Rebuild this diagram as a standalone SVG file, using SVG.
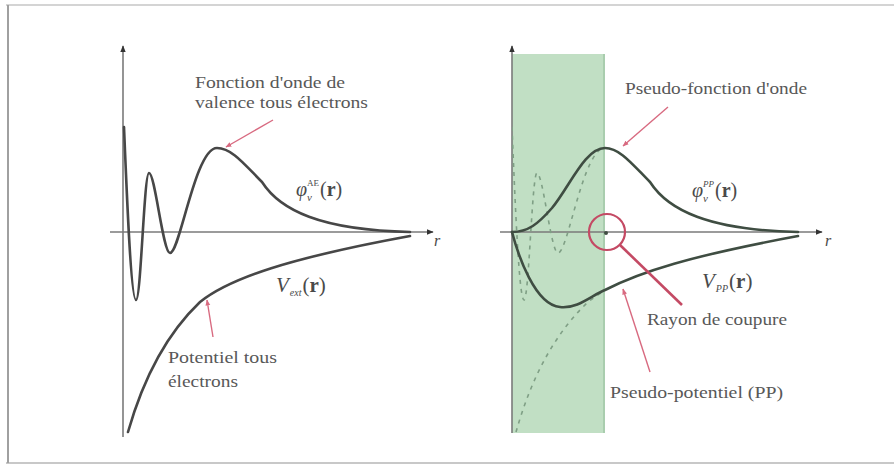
<svg xmlns="http://www.w3.org/2000/svg" xmlns:xlink="http://www.w3.org/1999/xlink" width="894" height="467" viewBox="0 0 894 467">
<style>
.ax{stroke:#7a7a7a;stroke-width:1.6;fill:none}
.cv{stroke:#474747;stroke-width:2.6;fill:none;stroke-linecap:round}
.cvg{stroke:#3f4d42;stroke-width:2.6;fill:none;stroke-linecap:round}
.dash{stroke:#7f9f85;stroke-width:1.6;fill:none;stroke-dasharray:4 5}
.lead{stroke:#d86a80;stroke-width:1.4;fill:none}
.t{font-family:"Liberation Serif",serif;font-size:17px;fill:#585858}
.m{font-family:"Liberation Serif",serif;fill:#4a4a4a}
</style>
<defs>
<marker id="ah" viewBox="0 0 10 10" refX="9" refY="5" markerWidth="7" markerHeight="7" orient="auto" markerUnits="userSpaceOnUse">
<path d="M0,1 L10,5 L0,9 Z" fill="#333"/>
</marker>
<marker id="ra" viewBox="0 0 10 10" refX="9" refY="5" markerWidth="6" markerHeight="6" orient="auto" markerUnits="userSpaceOnUse">
<path d="M0,1 L10,5 L0,9 Z" fill="#d86a80"/>
</marker>
<clipPath id="core"><rect x="512" y="54" width="93" height="379"/></clipPath>
<path id="aewf" d="M124,127 C127,200 131,300 136,300 C141,300 144,173 149,173 C155,173 163,253 170,253 C180,253 195,148 217,148 C232,148 245,165 262,182 C280,210 320,230 410,232"/>
<path id="aepot" d="M128,432 C140,390 160,340 200,302 C230,278 290,258 410,236"/>
</defs>
<rect width="894" height="467" fill="#fff"/>
<g id="frame">
<line x1="6" y1="5" x2="894" y2="5" stroke="#d4d4d4" stroke-width="2"/>
<line x1="6" y1="463" x2="894" y2="463" stroke="#c8c8c8" stroke-width="2"/>
<line x1="8" y1="5" x2="8" y2="463" stroke="#a0a0a0" stroke-width="2"/>
</g>
<g id="core-region">
<rect x="512" y="54" width="93" height="379" fill="#c1dfc4"/>
<line x1="604" y1="54" x2="604" y2="433" stroke="#a9cdae" stroke-width="2"/>
</g>
<g id="axes">
<line class="ax" x1="123" y1="437" x2="123" y2="46" marker-end="url(#ah)"/>
<line class="ax" x1="110" y1="232" x2="433" y2="232" marker-end="url(#ah)"/>
<line class="ax" x1="512" y1="433" x2="512" y2="46" marker-end="url(#ah)"/>
<line class="ax" x1="500" y1="232" x2="822" y2="232" marker-end="url(#ah)"/>
<text class="m" x="434" y="246" font-size="16" font-style="italic">r</text>
<text class="m" x="825" y="246" font-size="16" font-style="italic">r</text>
</g>
<g id="all-electron">
<use xlink:href="#aewf" class="cv"/>
<use xlink:href="#aepot" class="cv"/>
</g>
<g id="pseudo">
<g clip-path="url(#core)">
<use xlink:href="#aewf" class="dash" transform="translate(388,0)"/>
<use xlink:href="#aepot" class="dash" transform="translate(388,0)"/>
</g>
<path class="cvg" d="M512,232 C528,232 538,224 552,208 C570,186 585,148 605,148 C620,148 633,165 650,182 C668,210 708,230 798,232"/>
<path class="cvg" d="M512,232 C518,255 535,305 560,307 C578,309 592,295 605,290 C640,272 690,256 798,236"/>
<circle cx="606" cy="233" r="2" fill="#3f4d42"/>
</g>
<g id="connectors">
<line class="lead" x1="273" y1="120" x2="226" y2="147" marker-end="url(#ra)"/>
<line class="lead" x1="668" y1="107" x2="623" y2="146" marker-end="url(#ra)"/>
<line class="lead" x1="213" y1="337" x2="207" y2="300" marker-end="url(#ra)"/>
<line class="lead" x1="650" y1="372" x2="623" y2="289" marker-end="url(#ra)"/>
<circle cx="607" cy="232" r="18" fill="none" stroke="#c44a64" stroke-width="2.2"/>
<line x1="620" y1="245" x2="682" y2="305" stroke="#c44a64" stroke-width="2.6"/>
</g>
<g id="labels">
<text class="t" x="195" y="88" textLength="150" lengthAdjust="spacingAndGlyphs">Fonction d'onde de</text>
<text class="t" x="195" y="108" textLength="173" lengthAdjust="spacingAndGlyphs">valence tous électrons</text>
<text class="t" x="168" y="363" textLength="109" lengthAdjust="spacingAndGlyphs">Potentiel tous</text>
<text class="t" x="168" y="387" textLength="70" lengthAdjust="spacingAndGlyphs">électrons</text>
<text class="t" x="625" y="94" textLength="182" lengthAdjust="spacingAndGlyphs">Pseudo-fonction d'onde</text>
<text class="t" x="647" y="325" textLength="140" lengthAdjust="spacingAndGlyphs">Rayon de coupure</text>
<text class="t" x="610" y="398" textLength="173" lengthAdjust="spacingAndGlyphs">Pseudo-potentiel (PP)</text>
<text class="m" x="296" y="196" font-size="20"><tspan font-style="italic">φ</tspan><tspan font-size="11" font-style="italic" dx="0" dy="5">v</tspan><tspan font-size="9" dx="-5" dy="-15">AE</tspan><tspan dx="1" dy="10">(</tspan><tspan font-weight="bold">r</tspan><tspan>)</tspan></text>
<text class="m" x="692" y="197" font-size="20"><tspan font-style="italic">φ</tspan><tspan font-size="11" font-style="italic" dx="0" dy="5">v</tspan><tspan font-size="9" font-style="italic" dx="-5" dy="-15">PP</tspan><tspan dx="1" dy="10">(</tspan><tspan font-weight="bold">r</tspan><tspan>)</tspan></text>
<text class="m" x="276" y="292" font-size="21"><tspan font-style="italic">V</tspan><tspan font-size="10" font-style="italic" dx="1" dy="4">ext</tspan><tspan dx="1" dy="-4">(</tspan><tspan font-weight="bold">r</tspan><tspan>)</tspan></text>
<text class="m" x="702" y="288" font-size="21"><tspan font-style="italic">V</tspan><tspan font-size="10" font-style="italic" dx="1" dy="4">PP</tspan><tspan dx="1" dy="-4">(</tspan><tspan font-weight="bold">r</tspan><tspan>)</tspan></text>
</g>
</svg>
